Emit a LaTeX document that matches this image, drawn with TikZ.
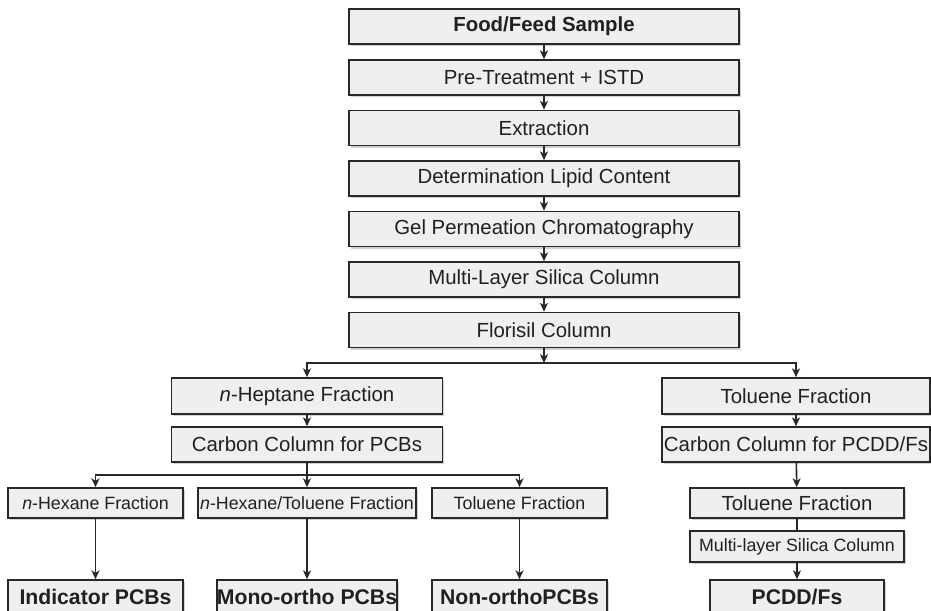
\documentclass[tikz,border=0pt]{standalone}
\usepackage{fontspec}
\setmainfont{Liberation Sans}
\usetikzlibrary{arrows.meta,shadows}
\definecolor{boxfill}{RGB}{238,239,238}
\definecolor{boxline}{RGB}{40,40,40}
\definecolor{ink}{RGB}{35,31,32}
\begin{document}
\begin{tikzpicture}
      [x=0.5pt,y=-0.5pt,
       box/.style={draw=boxline,fill=boxfill,line width=0.8pt,inner sep=0pt,
         text=ink,font=\fontsize{10.2}{12}\selectfont,
         drop shadow={shadow xshift=0.9pt,shadow yshift=-1.1pt,opacity=0.3,fill=black!60}},
       small/.style={font=\fontsize{8.9}{10}\selectfont},
       result/.style={font=\fontsize{10.6}{12}\bfseries\selectfont},
       link/.style={draw=boxline,line width=0.8pt,-{Stealth[length=4.4pt,width=4pt,inset=1.2pt]}}]
      \useasboundingbox (0,0) rectangle (931,610);
      \clip (0,0) rectangle (931,610);
      \tikzstyle{every node}=[box]
      % main chain
      \node[minimum width=195pt,minimum height=17.5pt,font=\fontsize{10.2}{12}\bfseries\selectfont] (food) at (544,26.5) {Food/Feed Sample};
      \node[minimum width=195pt,minimum height=17.5pt] (pretreat) at (544,77.5) {Pre-Treatment + ISTD};
      \node[minimum width=195pt,minimum height=17.5pt] (extract) at (544,128) {Extraction};
      \node[minimum width=195pt,minimum height=17.5pt] (lipid) at (544,178.5) {Determination Lipid Content};
      \node[minimum width=195pt,minimum height=17.5pt] (gpc) at (544,229) {Gel Permeation Chromatography};
      \node[minimum width=195pt,minimum height=17.5pt] (silica) at (544,279.5) {Multi-Layer Silica Column};
      \node[minimum width=195pt,minimum height=17.5pt] (florisil) at (544,330) {Florisil Column};
      % PCB branch
      \node[minimum width=135.5pt,minimum height=18pt] (heptane) at (307,396) {\textit{n}-Heptane Fraction};
      \node[minimum width=135.5pt,minimum height=17.5pt] (carbonpcb) at (307,444.5) {Carbon Column for PCBs};
      \node[small,minimum width=87.5pt,minimum height=15pt] (hexane) at (95.5,503) {\textit{n}-Hexane Fraction};
      \node[small,minimum width=109pt,minimum height=15pt] (hextol) at (307,503) {\textit{n}-Hexane/Toluene Fraction};
      \node[small,minimum width=87.5pt,minimum height=15pt] (tolpcb) at (519.5,503) {Toluene Fraction};
      \node[result,minimum width=87.5pt,minimum height=17pt] (indicator) at (95.5,597) {Indicator PCBs};
      \node[result,minimum width=87.5pt,minimum height=17pt] (monoortho) at (307,597) {Mono-ortho PCBs};
      \node[result,minimum width=87.5pt,minimum height=17pt] (nonortho) at (519.5,597) {Non-orthoPCBs};
      % PCDD/F branch
      \node[minimum width=134pt,minimum height=18pt] (toluene) at (796,396) {Toluene Fraction};
      \node[minimum width=134pt,minimum height=17.5pt] (carbondf) at (796,444.5) {Carbon Column for PCDD/Fs};
      \node[minimum width=107pt,minimum height=15pt] (toldf) at (797,503) {Toluene Fraction};
      \node[small,minimum width=107pt,minimum height=15.5pt] (silicadf) at (797,546.5) {Multi-layer Silica Column};
      \node[result,minimum width=87pt,minimum height=17pt] (pcddf) at (797,597) {PCDD/Fs};
      \coordinate (split1) at (544,363);
      \coordinate (split2) at (307,475);
      % connectors
      \foreach \a/\b in {food/pretreat,pretreat/extract,extract/lipid,lipid/gpc,
                        gpc/silica,silica/florisil,heptane/carbonpcb,toluene/carbondf,
                        carbondf/toldf,silicadf/pcddf}
        \draw[link] (\a) -- (\b);
      \draw[link] (florisil) -- (split1);
      \draw[link] (split1) -| (heptane);
      \draw[link] (split1) -| (toluene);
      \draw[draw=boxline,line width=0.8pt] (carbonpcb) -- (split2);
      \draw[link] (split2) -| (hexane);
      \draw[link] (split2) -- (hextol);
      \draw[link] (split2) -| (tolpcb);
      \draw[draw=boxline,line width=0.8pt] (toldf) -- (silicadf);
      \draw[link] (hexane) -- (indicator);
      \draw[link] (hextol) -- (monoortho);
      \draw[link] (tolpcb) -- (nonortho);
    \end{tikzpicture}
\end{document}
